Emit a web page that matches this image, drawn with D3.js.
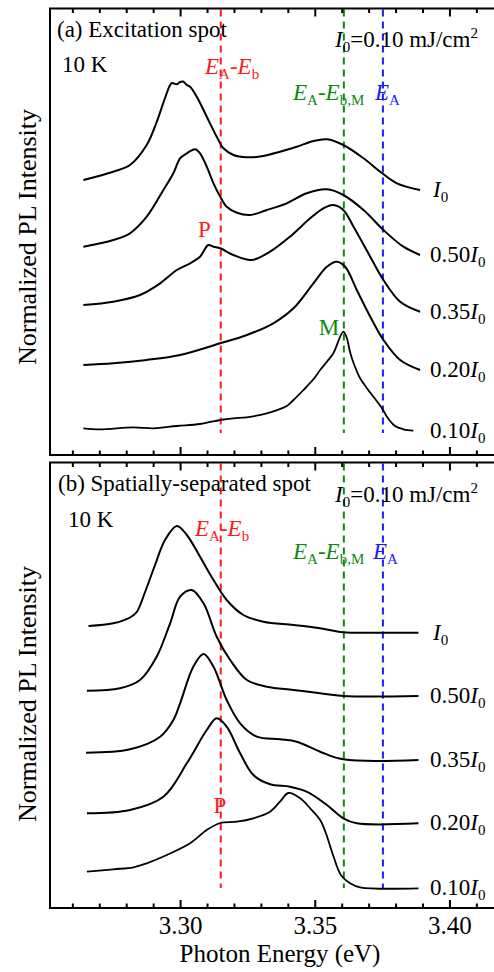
<!DOCTYPE html>
<html><head><meta charset="utf-8">
<script src="https://cdn.jsdelivr.net/npm/d3@7"></script>
<style>body{margin:0;background:#fff}</style>
</head><body><svg id="c" width="494" height="972" font-family="'Liberation Serif', 'Times New Roman', Tinos, 'DejaVu Serif', serif"></svg>
<script>
// ---------- data ----------
const markerEnergies = [3.3151, 3.3608, 3.3753];         // E_A-E_b, E_A-E_b,M, E_A
const markerColors = ["#ff1a1a", "#0d8a0d", "#1a1aff"];
const majorTicks = [3.30, 3.35, 3.40];
const minorTicks = [3.26, 3.27, 3.28, 3.29, 3.31, 3.32, 3.33, 3.34, 3.36, 3.37, 3.38, 3.39, 3.41];
const tickLabels = ["3.30", "3.35", "3.40"];
const intensityLabels = ["", "0.50", "0.35", "0.20", "0.10"];

// panel (a) excitation spot (stacked, arbitrary units)
const aI0_E = [3.2641,3.2752,3.2814,3.2876,3.2913,3.2944,3.2963,3.2970,3.2988,3.3000,3.3011,3.3025,3.3037,3.3062,3.3099,3.3136,3.3161,3.3198,3.3248,3.3309,3.3371,3.3433,3.3495,3.3545,3.3606,3.3681,3.3743,3.3805,3.3891];
const aI0_Y = [2.75,2.833,2.90,3.10,3.33,3.57,3.70,3.72,3.707,3.73,3.735,3.70,3.683,3.583,3.383,3.183,3.067,3.00,2.977,2.99,3.033,3.083,3.14,3.157,3.10,2.967,2.833,2.717,2.65];
const a050_E = [3.2641,3.2752,3.2814,3.2876,3.2938,3.2975,3.3000,3.3025,3.3056,3.3074,3.3099,3.3124,3.3149,3.3173,3.3211,3.3260,3.3322,3.3396,3.3470,3.3545,3.3606,3.3681,3.3755,3.3829,3.3891];
const a050_Y = [2.083,2.15,2.217,2.383,2.65,2.817,2.967,3.017,3.057,3.017,2.883,2.717,2.583,2.483,2.423,2.40,2.45,2.517,2.617,2.657,2.60,2.45,2.25,2.083,2.00];
const a035_E = [3.2641,3.2752,3.2851,3.2926,3.2988,3.3037,3.3074,3.3105,3.3124,3.3149,3.3198,3.3266,3.3334,3.3408,3.3483,3.3532,3.3569,3.3606,3.3644,3.3706,3.3755,3.3817,3.3891];
const a035_Y = [1.50,1.533,1.60,1.717,1.85,1.917,1.983,2.10,2.083,2.067,2.00,1.95,2.033,2.183,2.367,2.467,2.50,2.45,2.283,1.983,1.75,1.533,1.433];
const a020_E = [3.2641,3.2752,3.2876,3.3000,3.3149,3.3248,3.3346,3.3421,3.3495,3.3545,3.3582,3.3613,3.3656,3.3706,3.3755,3.3817,3.3891];
const a020_Y = [0.90,0.917,0.95,1.00,1.117,1.20,1.317,1.467,1.717,1.883,1.933,1.883,1.65,1.383,1.15,0.95,0.85];
const a010_E = [3.2641,3.2703,3.2827,3.2901,3.2988,3.3074,3.3149,3.3198,3.3248,3.3322,3.3396,3.3421,3.3458,3.3495,3.3520,3.3545,3.3569,3.3606,3.3619,3.3631,3.3644,3.3668,3.3693,3.3749,3.3768,3.3798,3.3829,3.3866];
const a010_Y = [0.267,0.257,0.277,0.267,0.29,0.31,0.35,0.367,0.377,0.417,0.49,0.55,0.65,0.757,0.85,0.933,1.017,1.233,1.17,1.03,0.92,0.77,0.67,0.47,0.383,0.29,0.257,0.243];

// panel (b) spatially-separated spot
const bI0_E = [3.2660,3.2752,3.2814,3.2839,3.2870,3.2907,3.2944,3.2988,3.3025,3.3074,3.3124,3.3173,3.3235,3.3309,3.3421,3.3520,3.3606,3.3743,3.3885];
const bI0_Y = [2.82,2.847,2.905,2.96,3.16,3.43,3.68,3.82,3.73,3.513,3.28,3.08,2.93,2.863,2.83,2.797,2.757,2.753,2.753];
const b050_E = [3.2654,3.2777,3.2851,3.2913,3.2963,3.3000,3.3043,3.3087,3.3136,3.3186,3.3248,3.3322,3.3421,3.3520,3.3606,3.3885];
const b050_Y = [2.173,2.197,2.28,2.513,2.847,3.113,3.18,3.047,2.713,2.48,2.28,2.213,2.18,2.147,2.12,2.12];
const b035_E = [3.2651,3.2814,3.2926,3.2975,3.3000,3.3049,3.3087,3.3124,3.3173,3.3223,3.3285,3.3371,3.3433,3.3520,3.3606,3.3885];
const b035_Y = [1.553,1.587,1.713,1.88,2.047,2.413,2.54,2.413,2.08,1.847,1.713,1.687,1.663,1.563,1.487,1.48];
const b020_E = [3.2654,3.2814,3.2938,3.3025,3.3099,3.3136,3.3173,3.3223,3.3272,3.3334,3.3408,3.3470,3.3545,3.3606,3.3656,3.3885];
const b020_Y = [0.947,0.98,1.113,1.447,1.78,1.897,1.813,1.547,1.33,1.237,1.213,1.163,1.03,0.897,0.847,0.847];
const b010_E = [3.2654,3.2752,3.2827,3.2876,3.2951,3.3037,3.3099,3.3149,3.3211,3.3272,3.3334,3.3371,3.3402,3.3446,3.3483,3.3520,3.3541,3.3569,3.3597,3.3631,3.3668,3.3885];
const b010_Y = [0.363,0.387,0.407,0.447,0.53,0.647,0.78,0.85,0.863,0.897,0.963,1.063,1.15,1.097,0.997,0.88,0.75,0.52,0.33,0.247,0.207,0.197];

// ---------- drawing ----------
const FONT = "'Liberation Serif', 'Times New Roman', Tinos, 'DejaVu Serif', serif";
const svg = d3.select("#c");
const x = d3.scaleLinear().domain([3.2517, 3.42]).range([50, 503.3]);
const FS = 23;

const panels = [
  {top: 8.5, bottom: 455, series: [[aI0_E,aI0_Y],[a050_E,a050_Y],[a035_E,a035_Y],[a020_E,a020_Y],[a010_E,a010_Y]],
   title: "(a) Excitation spot", titleX: 57, titleY: 37, kX: 62, kY: 72, i0Y: 47, markBottom: 433,
   redLab: [205, 74], greenLab: [293, 100], blueLab: [375, 100], ylabY: 237,
   letters: [{t:"P", c:0, x:204.5, y:237}, {t:"M", c:1, x:329, y:335}], tickLabels: false},
  {top: 462.5, bottom: 908, series: [[bI0_E,bI0_Y],[b050_E,b050_Y],[b035_E,b035_Y],[b020_E,b020_Y],[b010_E,b010_Y]],
   title: "(b) Spatially-separated spot", titleX: 58, titleY: 491, kX: 68, kY: 527, i0Y: 502, markBottom: 888,
   redLab: [195, 536], greenLab: [293, 559], blueLab: [373, 559], ylabY: 694,
   letters: [{t:"P", c:0, x:220, y:813}], tickLabels: true}
];

function subText(sel, parts) {
  let shift = 0;
  sel.attr("font-family", FONT);
  parts.forEach(([t, s]) => {
    const ts = sel.append("tspan").text(t);
    let target = 0;
    if (s === "i") ts.attr("font-style", "italic");
    if (s === "sub") { target = 5; ts.attr("font-size", 15); }
    if (s === "sup") { target = -9; ts.attr("font-size", 15); }
    if (target !== shift) { ts.attr("dy", target - shift); shift = target; }
  });
}

panels.forEach(p => {
  const g = svg.append("g");
  const y = d3.scaleLinear().domain([0, (p.bottom - p.top) / 100]).range([p.bottom, p.top]);

  markerEnergies.forEach((e, i) => {
    g.append("line").attr("x1", x(e)).attr("x2", x(e)).attr("y1", p.top + 1).attr("y2", p.markBottom)
      .attr("stroke", markerColors[i]).attr("stroke-width", 2).attr("stroke-dasharray", "7,5");
  });

  const line = d3.line().x(d => x(d[0])).y(d => y(d[1])).curve(d3.curveCatmullRom.alpha(0.5));
  p.series.forEach(([E, Y], i) => {
    const pts = E.map((e, k) => [e, Y[k]]);
    g.append("path").datum(pts).attr("d", line).attr("fill", "none").attr("stroke", "#000")
      .attr("stroke-width", i === 4 ? 1.8 : 2).attr("stroke-linejoin", "round");
    const last = pts[pts.length - 1];
    const t = g.append("text").attr("x", intensityLabels[i] ? 430 : 433).attr("y", y(last[1]) + 7)
      .attr("font-size", FS).attr("fill", "#000");
    subText(t, [[intensityLabels[i], "n"], ["I", "i"], ["0", "sub"]]);
  });

  g.append("rect").attr("x", 50).attr("y", p.top).attr("width", 470).attr("height", p.bottom - p.top)
    .attr("fill", "none").attr("stroke", "#000").attr("stroke-width", 2);

  const mk = (axisFn, vals, size, ty, labels) => {
    const ax = axisFn(x).tickValues(vals).tickSize(size).tickPadding(8.5)
      .tickFormat(labels ? ((d, i) => tickLabels[i]) : "");
    const ag = g.append("g").attr("transform", `translate(0,${ty})`).call(ax)
      .attr("font-family", FONT).attr("font-size", 25);
    ag.select(".domain").remove();
    ag.selectAll(".tick line").attr("stroke", "#000").attr("stroke-width", 2);
    ag.selectAll("text").attr("fill", "#000");
  };
  mk(d3.axisTop, majorTicks, -8, p.top, false);
  mk(d3.axisTop, minorTicks, -4.5, p.top, false);
  mk(d3.axisBottom, majorTicks, -8, p.bottom, p.tickLabels);
  mk(d3.axisBottom, minorTicks, -4.5, p.bottom, false);

  g.append("text").attr("x", p.titleX).attr("y", p.titleY).attr("font-size", FS).attr("font-family", FONT).text(p.title);
  g.append("text").attr("x", p.kX).attr("y", p.kY).attr("font-size", FS).attr("font-family", FONT).text("10 K");
  subText(g.append("text").attr("x", 335).attr("y", p.i0Y).attr("font-size", FS),
    [["I", "i"], ["0", "sub"], ["=0.10 mJ/cm", "n"], ["2", "sup"]]);
  subText(g.append("text").attr("x", p.redLab[0]).attr("y", p.redLab[1]).attr("font-size", FS).attr("fill", markerColors[0]),
    [["E", "i"], ["A", "sub"], ["-", "n"], ["E", "i"], ["b", "sub"]]);
  subText(g.append("text").attr("x", p.greenLab[0]).attr("y", p.greenLab[1]).attr("font-size", FS).attr("fill", markerColors[1]),
    [["E", "i"], ["A", "sub"], ["-", "n"], ["E", "i"], ["b,M", "sub"]]);
  subText(g.append("text").attr("x", p.blueLab[0]).attr("y", p.blueLab[1]).attr("font-size", FS).attr("fill", markerColors[2]),
    [["E", "i"], ["A", "sub"]]);
  p.letters.forEach(l => g.append("text").attr("x", l.x).attr("y", l.y).attr("text-anchor", "middle")
    .attr("font-size", FS).attr("font-family", FONT).attr("fill", markerColors[l.c]).text(l.t));

  g.append("text").attr("transform", `translate(36,${p.ylabY}) rotate(-90)`).attr("text-anchor", "middle")
    .attr("font-size", 26).attr("font-family", FONT).text("Normalized PL Intensity");
});

svg.append("text").attr("x", 280).attr("y", 962).attr("text-anchor", "middle").attr("font-size", 25)
  .attr("font-family", FONT).text("Photon Energy (eV)");
</script></body></html>
